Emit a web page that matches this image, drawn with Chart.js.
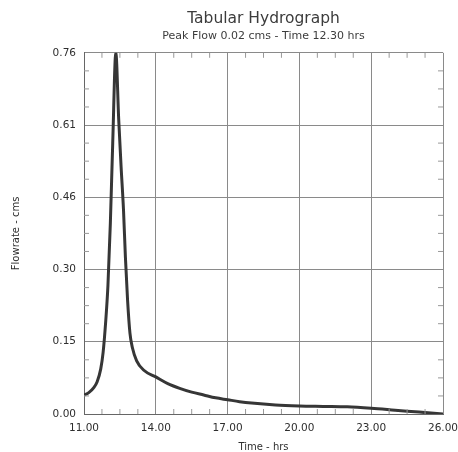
<!DOCTYPE html>
<html>
<head>
<meta charset="utf-8">
<script src="https://cdn.jsdelivr.net/npm/chart.js@4"></script>
<style>
  html, body { margin: 0; padding: 0; background: #fff; }
  #wrap { width: 458px; height: 452px; }
</style>
</head>
<body>
<div id="wrap"><canvas id="hydro-chart"></canvas></div>
<script>
const timeHrs = [
    11.0, 11.2, 11.4, 11.55, 11.7, 11.8, 11.9, 12.0, 12.1, 12.2, 12.33,
    12.45, 12.55, 12.65, 12.73, 12.82, 12.92, 13.02, 13.2, 13.5, 14.0, 14.5,
    15.0, 15.5, 16.0, 16.5, 17.0, 17.5, 18.0, 19.0, 20.0, 21.0, 22.0,
    23.0, 24.0, 25.0, 26.0
];
const flowCms = [
    0.040, 0.045, 0.055, 0.068, 0.095, 0.13, 0.19, 0.27, 0.40, 0.57, 0.76,
    0.62, 0.52, 0.43, 0.33, 0.24, 0.17, 0.14, 0.112, 0.092, 0.078, 0.064,
    0.054, 0.046, 0.040, 0.034, 0.030, 0.026, 0.023, 0.019, 0.017, 0.016, 0.015,
    0.012, 0.008, 0.004, 0.000
];
const xTickValues = [11, 14, 17, 20, 23, 26];
const yTickValues = [0, 0.152, 0.304, 0.456, 0.608, 0.76];
const yTickLabels = ['0.00', '0.15', '0.30', '0.46', '0.61', '0.76'];

const points = timeHrs.map((t, i) => ({ x: t, y: flowCms[i] }));

// small inward ticks between grid lines on all four sides
const minorTicksPlugin = {
    id: 'minorTicks',
    afterDatasetsDraw(chart) {
        const { ctx, chartArea: a, scales } = chart;
        const len = 5;
        ctx.save();
        ctx.strokeStyle = '#999';
        ctx.lineWidth = 1;
        ctx.beginPath();
        for (let i = 0; i < xTickValues.length - 1; i++) {
            const step = (xTickValues[i + 1] - xTickValues[i]) / 4;
            for (let k = 1; k < 4; k++) {
                const px = scales.x.getPixelForValue(xTickValues[i] + k * step);
                ctx.moveTo(px, a.bottom); ctx.lineTo(px, a.bottom - len);
                ctx.moveTo(px, a.top); ctx.lineTo(px, a.top + len);
            }
        }
        for (let i = 0; i < yTickValues.length - 1; i++) {
            const step = (yTickValues[i + 1] - yTickValues[i]) / 4;
            for (let k = 1; k < 4; k++) {
                const py = scales.y.getPixelForValue(yTickValues[i] + k * step);
                ctx.moveTo(a.left, py); ctx.lineTo(a.left + len, py);
                ctx.moveTo(a.right, py); ctx.lineTo(a.right - len, py);
            }
        }
        ctx.stroke();
        ctx.restore();
    }
};

const whiteBackgroundPlugin = {
    id: 'whiteBackground',
    beforeDraw(chart) {
        const ctx = chart.ctx;
        ctx.save();
        ctx.fillStyle = '#fff';
        ctx.fillRect(0, 0, chart.width, chart.height);
        ctx.restore();
    }
};

const hydroCtx = document.getElementById('hydro-chart').getContext('2d');
const hydroChart = new Chart(hydroCtx, {
    type: 'line',
    data: {
        datasets: [{
            label: 'Flowrate',
            data: points,
            borderColor: '#363636',
            borderWidth: 3,
            pointRadius: 0,
            cubicInterpolationMode: 'monotone',
            fill: false
        }]
    },
    options: {
        responsive: true,
        maintainAspectRatio: false,
        animation: false,
        layout: {
            padding: { left: 10, right: 15, top: 0, bottom: 0 }
        },
        plugins: {
            legend: { display: false },
            tooltip: { enabled: false },
            title: {
                display: true,
                fullSize: false,
                text: 'Tabular Hydrograph',
                color: '#3c3c3c',
                font: { family: 'DejaVu Sans', size: 15.5, weight: 'normal' },
                padding: { top: 10, bottom: 0 }
            },
            subtitle: {
                display: true,
                fullSize: false,
                text: 'Peak Flow 0.02 cms - Time 12.30 hrs',
                color: '#3c3c3c',
                font: { family: 'DejaVu Sans', size: 11 },
                padding: { top: 1, bottom: 10 }
            }
        },
        scales: {
            x: {
                type: 'linear',
                min: 11,
                max: 26,
                afterBuildTicks: (scale) => {
                    scale.ticks = xTickValues.map(v => ({ value: v }));
                },
                afterFit: (scale) => {
                    scale.height = 38;
                    scale.paddingLeft = 0;
                    scale.paddingRight = 0;
                },
                ticks: {
                    color: '#2e2e2e',
                    font: { family: 'DejaVu Sans', size: 10.5 },
                    padding: 8,
                    maxRotation: 0,
                    callback: (v) => Number(v).toFixed(2)
                },
                grid: { color: '#8a8a8a', lineWidth: 1, drawTicks: false },
                border: { color: '#666', width: 1 },
                title: {
                    display: true,
                    text: 'Time - hrs',
                    color: '#2e2e2e',
                    font: { family: 'DejaVu Sans', size: 10 },
                    padding: { top: 2, bottom: -1 }
                }
            },
            y: {
                min: 0,
                max: 0.76,
                afterBuildTicks: (scale) => {
                    scale.ticks = yTickValues.map(v => ({ value: v }));
                },
                afterFit: (scale) => { scale.width = 74; },
                ticks: {
                    color: '#2e2e2e',
                    font: { family: 'DejaVu Sans', size: 10.5 },
                    padding: 8,
                    callback: (v) => yTickLabels[yTickValues.indexOf(v)]
                },
                grid: { color: '#8a8a8a', lineWidth: 1, drawTicks: false },
                border: { color: '#666', width: 1 },
                title: {
                    display: true,
                    text: 'Flowrate - cms',
                    color: '#2e2e2e',
                    font: { family: 'DejaVu Sans', size: 10 },
                    padding: { top: 0, bottom: 0 }
                }
            }
        }
    },
    plugins: [whiteBackgroundPlugin, minorTicksPlugin]
});
</script>
</body>
</html>
